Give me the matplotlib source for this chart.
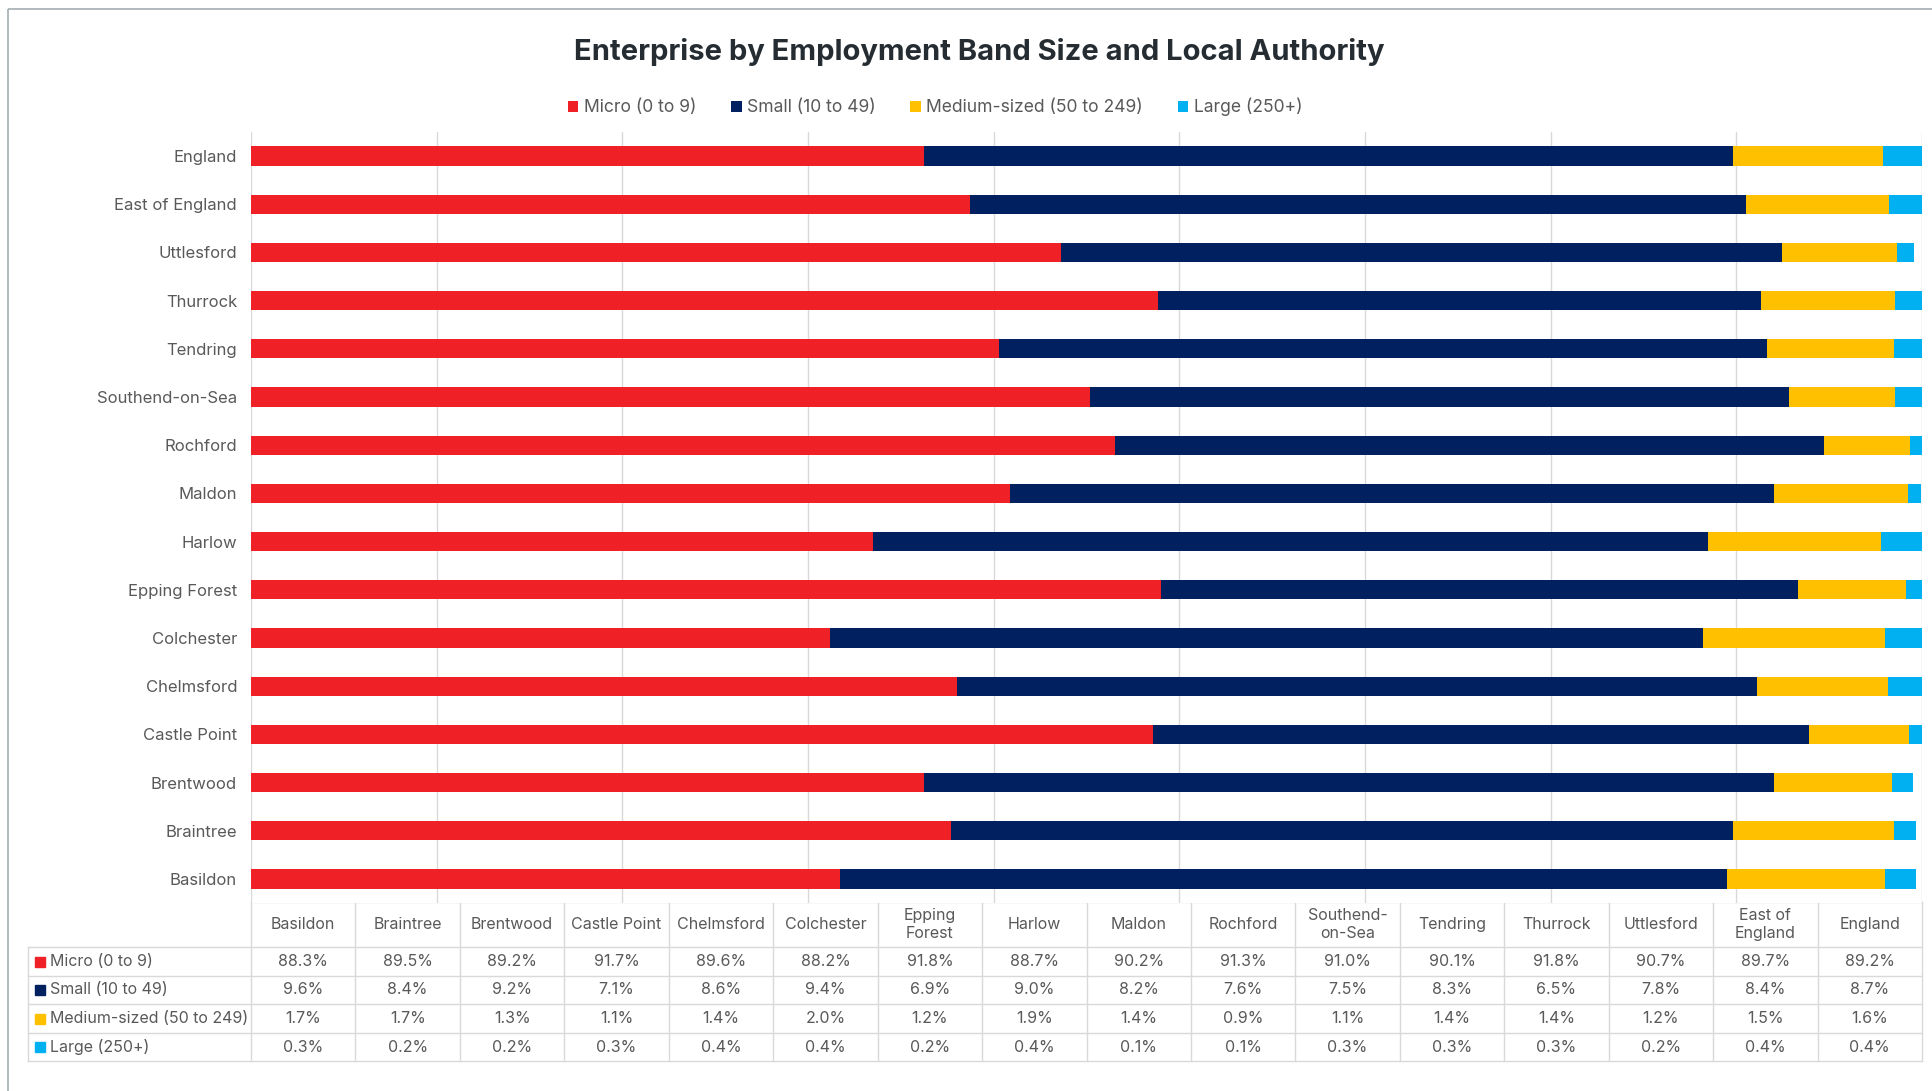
import matplotlib.pyplot as plt
from matplotlib.patches import Rectangle

plt.rcParams['font.family'] = ['Inter', 'DejaVu Sans']

areas = ['Basildon', 'Braintree', 'Brentwood', 'Castle Point', 'Chelmsford', 'Colchester',
         'Epping Forest', 'Harlow', 'Maldon', 'Rochford', 'Southend-on-Sea', 'Tendring',
         'Thurrock', 'Uttlesford', 'East of England', 'England']
headers = ['Basildon', 'Braintree', 'Brentwood', 'Castle Point', 'Chelmsford', 'Colchester',
           'Epping\nForest', 'Harlow', 'Maldon', 'Rochford', 'Southend-\non-Sea', 'Tendring',
           'Thurrock', 'Uttlesford', 'East of\nEngland', 'England']

# shares in %, estimated to two decimals from the bars (table shows them rounded)
micro = [88.34, 89.54, 89.25, 91.72, 89.61, 88.24, 91.80, 88.70, 90.18, 91.31, 91.04, 90.06, 91.77, 90.72, 89.74, 89.25]
small = [9.56, 8.42, 9.16, 7.06, 8.61, 9.40, 6.86, 9.00, 8.23, 7.63, 7.53, 8.27, 6.50, 7.77, 8.36, 8.71]
medium = [1.70, 1.74, 1.27, 1.08, 1.41, 1.96, 1.17, 1.86, 1.44, 0.93, 1.14, 1.37, 1.44, 1.24, 1.54, 1.62]
large = [0.33, 0.23, 0.22, 0.3, 0.37, 0.41, 0.18, 0.44, 0.14, 0.13, 0.3, 0.3, 0.3, 0.18, 0.4, 0.42]

series = [('Micro (0 to 9)', micro, '#F02126'),
          ('Small (10 to 49)', small, '#00205F'),
          ('Medium-sized (50 to 249)', medium, '#FFC000'),
          ('Large (250+)', large, '#00B0F0')]

W, H = 1932, 1091
fig = plt.figure(figsize=(W / 100, H / 100), dpi=100)

# overlay in pixel coords for frame and data table
ov = fig.add_axes([0, 0, 1, 1])
ov.set_xlim(0, W)
ov.set_ylim(H, 0)
ov.axis('off')
ov.add_patch(Rectangle((8, 9), W, H, fill=False, ec='#A6AEB3', lw=1.2))

x0, x1 = 251, 1922
ax = fig.add_axes([x0 / W, 1 - 903 / H, (x1 - x0) / W, (903 - 132) / H])
ypos = list(range(len(areas)))
left = [0] * len(areas)
for name, vals, col in series:
    ax.barh(ypos, vals, left=left, height=0.4, color=col, label=name, zorder=2)
    left = [l + v for l, v in zip(left, vals)]

ax.set_xlim(82, 100)
ax.set_ylim(-0.5, len(areas) - 0.5)
ax.set_xticks(range(82, 101, 2))
ax.set_xticklabels([])
ax.set_yticks(ypos)
ax.set_yticklabels(areas, fontsize=12, color='#595959')
ax.tick_params(length=0, pad=10)
ax.grid(axis='x', color='#D9D9D9', lw=1, zorder=0)
for s in ax.spines.values():
    s.set_visible(False)

fig.text(979 / W, 1 - 52 / H, 'Enterprise by Employment Band Size and Local Authority',
         ha='center', va='center', fontsize=21, fontweight='bold', color='#252D33')

leg = fig.legend(loc='center', bbox_to_anchor=(935 / W, 1 - 107 / H), ncol=4, frameon=False,
                 fontsize=12.6, handlelength=0.6, handleheight=0.6, handletextpad=0.3,
                 columnspacing=2.0, labelcolor='#595959')

# data table
gc = '#D9D9D9'
rows_y = [902, 947, 976, 1004, 1033, 1061]
lab_x = 28
ncol = len(areas)
cw = (x1 - x0) / ncol
ov.plot([x0, x1], [rows_y[0], rows_y[0]], color=gc, lw=1)
for y in rows_y[1:]:
    ov.plot([lab_x, x1], [y, y], color=gc, lw=1)
for k in range(ncol + 1):
    xx = x0 + k * cw
    ov.plot([xx, xx], [rows_y[0], rows_y[-1]], color=gc, lw=1)
ov.plot([lab_x, lab_x], [rows_y[1], rows_y[-1]], color=gc, lw=1)

for k, h in enumerate(headers):
    ov.text(x0 + (k + 0.5) * cw, (rows_y[0] + rows_y[1]) / 2, h, ha='center', va='center',
            fontsize=11.5, color='#595959', linespacing=1.2)
for r, (name, vals, col) in enumerate(series):
    yc = (rows_y[r + 1] + rows_y[r + 2]) / 2
    ov.add_patch(Rectangle((35, yc - 5), 10, 10, color=col))
    ov.text(50, yc, name, ha='left', va='center', fontsize=11.5, color='#595959')
    for k, v in enumerate(vals):
        ov.text(x0 + (k + 0.5) * cw, yc, f'{v:.1f}%', ha='center', va='center',
                fontsize=11.5, color='#595959')

fig.savefig('out.png', dpi=100)
